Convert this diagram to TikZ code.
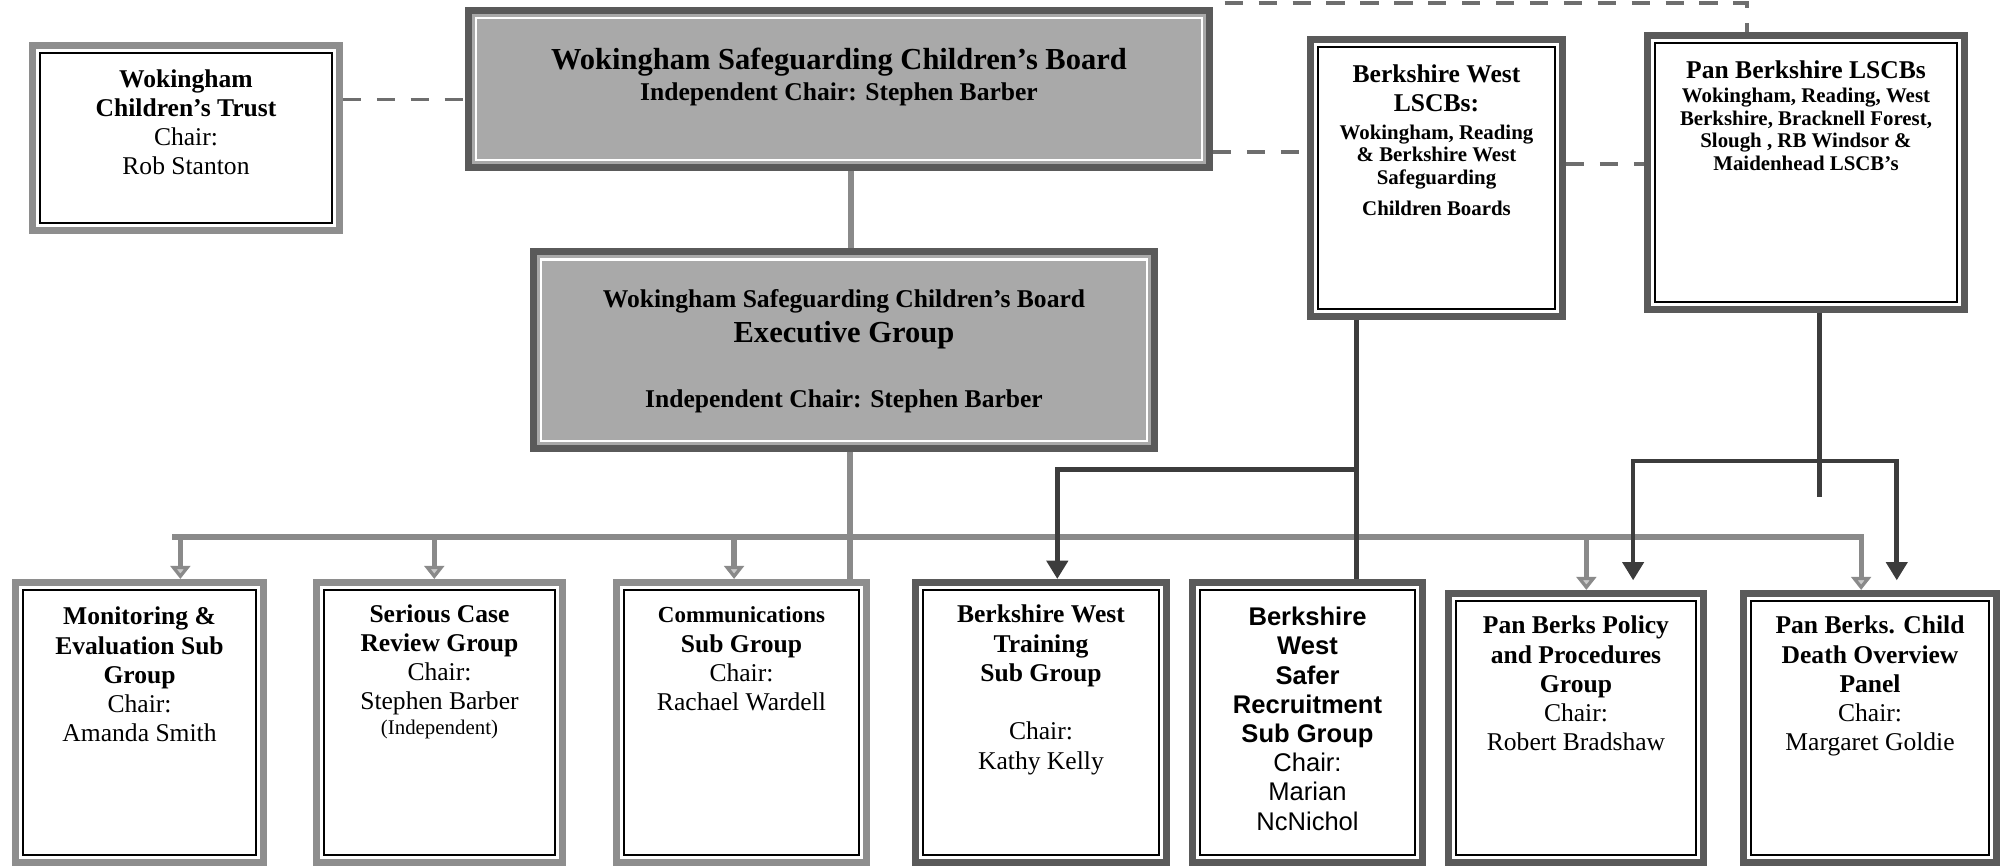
\documentclass[tikz,border=0pt]{standalone}
\usepackage{fontspec}
\setmainfont{Liberation Serif}
\newfontfamily\arialfont{Liberation Sans}
\usepackage{tikz}
\usetikzlibrary{arrows.meta}
\newcommand{\boxtext}[4]{\parbox[b][#1][t]{#2}{\centering\rule{0pt}{#3}#4}}
\newcommand{\titlesize}{\fontsize{11.7}{11.2}\selectfont}
\newcommand{\notesize}{\fontsize{8}{9}\selectfont}
\definecolor{bandgrey}{HTML}{8E8E8E}
\definecolor{banddark}{HTML}{5A5A5A}
\definecolor{boardgrey}{HTML}{A9A9A9}
\definecolor{linkgrey}{HTML}{8A8A8A}
\definecolor{linkdark}{HTML}{3C3C3C}

\begin{document}
\begin{tikzpicture}[
  font=\fontsize{9.8}{11.2}\selectfont,
  innerline/.style={path picture={\draw[line width=0.8pt,#1]
      ([shift={(2.9pt,-2.9pt)}]path picture bounding box.north west) rectangle
      ([shift={(-2.9pt,2.9pt)}]path picture bounding box.south east);}},
  box/.style={draw=bandgrey,line width=2.6pt,fill=white,inner sep=0pt,innerline=black},
  darkbox/.style={box,draw=banddark},
  board/.style={box,draw=banddark,fill=boardgrey,innerline={white,line width=1.1pt}},
  link/.style={linkgrey,line width=2pt},
  linkar/.style={link,-{Triangle[length=5pt,width=7.5pt,fill=linkgrey!45]}},
  dlink/.style={linkdark,line width=1.8pt},
  dlinkar/.style={dlink,-{Triangle[length=7pt,width=8pt]}},
  dashlink/.style={linkgrey!80!black,line width=1.3pt,dash pattern=on 7pt off 6pt}
]
\useasboundingbox (0,0) rectangle (27,-11.681);

\node[box] (trust) at (2.506,-1.859)
  {\boxtext{2.493cm}{4.136cm}{0.560cm}{\textbf{Wokingham}\\\textbf{Children's Trust}\\Chair:\\Rob Stanton}};
\node[board] (wscb) at (11.304,-1.199)
  {\boxtext{2.116cm}{9.985cm}{0.798cm}{{\titlesize\textbf{Wokingham Safeguarding Children's Board}}\\[0.8pt]
   \textbf{Independent Chair: Stephen Barber}}};
\node[board] (exec) at (11.371,-4.716)
  {\boxtext{2.654cm}{8.367cm}{0.752cm}{\textbf{Wokingham Safeguarding Children's Board}\\[2.2pt]
   {\titlesize\textbf{Executive Group}}\\[13.7pt]
   \textbf{Independent Chair: Stephen Barber}}};
\node[darkbox] (bwl) at (19.354,-2.398)
  {\boxtext{3.733cm}{3.397cm}{0.574cm}{\textbf{Berkshire West}\\\textbf{LSCBs:}\par\vspace{2pt}
   {\notesize\bfseries Wokingham, Reading\\[-0.7pt]\& Berkshire West\\[-0.2pt]Safeguarding\\[2.8pt]Children Boards\par}}};
\node[darkbox] (pbl) at (24.332,-2.324)
  {\boxtext{3.692cm}{4.271cm}{0.574cm}{\textbf{Pan Berkshire LSCBs}\par\vspace{0.2pt}
   {\notesize\bfseries Wokingham, Reading, West\\[-0.2pt]Berkshire, Bracknell Forest,\\[-0.2pt]
    Slough , RB Windsor \&\\[-0.2pt]Maidenhead LSCB's\par}}};

\node[box] (mon) at (1.880,-9.734)
  {\boxtext{3.775cm}{3.341cm}{0.574cm}{\textbf{Monitoring \&}\\\textbf{Evaluation Sub}\\\textbf{Group}\\Chair:\\Amanda Smith}};
\node[box] (scr) at (5.921,-9.734)
  {\boxtext{3.775cm}{3.314cm}{0.534cm}{\textbf{Serious Case}\\\textbf{Review Group}\\Chair:\\Stephen Barber\\[-1.6pt]
   {\notesize(Independent)}}};
\node[box] (com) at (9.990,-9.734)
  {\boxtext{3.775cm}{3.368cm}{0.547cm}{{\fontsize{8.8}{11}\selectfont\textbf{Communications}}\\\textbf{Sub Group}\\Chair:\\Rachael Wardell}};
\node[darkbox] (bwt) at (14.025,-9.734)
  {\boxtext{3.775cm}{3.382cm}{0.547cm}{\textbf{Berkshire West}\\\textbf{Training}\\\textbf{Sub Group}\\[11.2pt]Chair:\\Kathy Kelly}};
\node[darkbox,font=\arialfont\fontsize{9.8}{11.2}\selectfont] (bwsr) at (17.616,-9.734)
  {\boxtext{3.775cm}{3.099cm}{0.582cm}{\textbf{Berkshire}\\\textbf{West}\\\textbf{Safer}\\\textbf{Recruitment}\\\textbf{Sub Group}\\Chair:\\Marian\\NcNichol}};
\node[darkbox] (pbp) at (21.233,-9.808)
  {\boxtext{3.627cm}{3.436cm}{0.547cm}{\textbf{Pan Berks Policy}\\\textbf{and Procedures}\\\textbf{Group}\\Chair:\\Robert Bradshaw}};
\node[darkbox] (pbc) at (25.195,-9.808)
  {\boxtext{3.627cm}{3.409cm}{0.547cm}{\textbf{Pan Berks. Child}\\\textbf{Death Overview}\\\textbf{Panel}\\Chair:\\Margaret Goldie}};

\coordinate (linkstart) at (16.50,-0.04);
\coordinate (busL) at (2.32,-7.235);
\coordinate (bwfork) at (18.28,-6.33);
\coordinate (pbfork) at (24.51,-6.21);
\coordinate (pbstub) at (24.51,-6.70);

\draw[dashlink] ([yshift=5.2mm]trust.east) -- ([yshift=5.2mm]trust.east -| wscb.west);
\draw[dashlink] ([yshift=-8.5mm]wscb.east) -- ([yshift=-8.5mm]wscb.east -| bwl.west);
\draw[dashlink] ([yshift=1.9mm]bwl.east) -- ([yshift=1.9mm]bwl.east -| pbl.west);
\draw[dashlink] (linkstart) -| ([xshift=-7.95mm]pbl.north);

\draw[link] ([xshift=1.6mm]wscb.south) -- ([xshift=1.6mm]wscb.south |- exec.north);
\draw[link] ([xshift=0.8mm]exec.south) -- ([xshift=0.8mm]exec.south |- com.north);
\draw[linkar] (busL) -| ([xshift=-1.2mm]pbc.north);
\draw[linkar] ([xshift=5.5mm]mon.north |- busL) -- ([xshift=5.5mm]mon.north);
\draw[linkar] ([xshift=-0.7mm]scr.north |- busL) -- ([xshift=-0.7mm]scr.north);
\draw[linkar] ([xshift=-1mm]com.north |- busL) -- ([xshift=-1mm]com.north);
\draw[linkar] ([xshift=1.4mm]pbp.north |- busL) -- ([xshift=1.4mm]pbp.north);

\draw[dlink] (bwl.south -| bwfork) -- (bwfork |- bwsr.north);
\draw[dlinkar] (bwfork) -| ([xshift=2.2mm]bwt.north);
\draw[dlink] (pbl.south -| pbfork) -- (pbstub);
\draw[dlinkar] (pbfork) -| ([xshift=7.7mm,yshift=1.3mm]pbp.north);
\draw[dlinkar] (pbfork) -| ([xshift=3.6mm,yshift=1.3mm]pbc.north);
\end{tikzpicture}
\end{document}
